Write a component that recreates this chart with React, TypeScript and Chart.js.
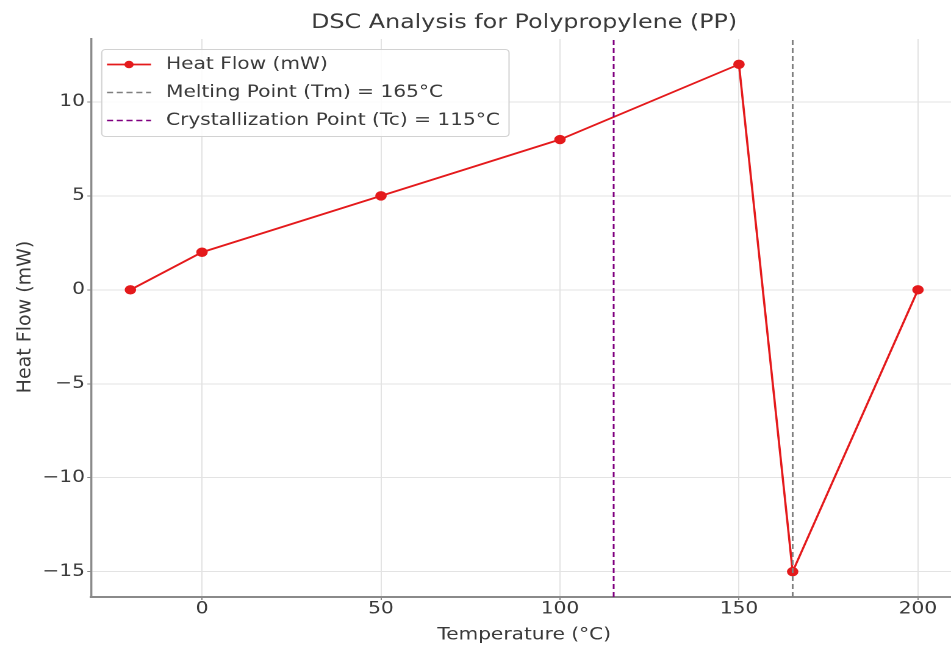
import React, { useEffect, useRef } from 'react';
import { Chart, registerables } from 'chart.js';

Chart.register(...registerables);

// ---- data ----
const temperatures = [-20, 0, 50, 100, 150, 165, 200];
const heatFlow = [0, 2, 5, 8, 12, -15, 0];
const meltingPoint = 165;
const crystallizationPoint = 115;
const xTicks = [0, 50, 100, 150, 200];
const yTicks = [-15, -10, -5, 0, 5, 10];
const xRange = [-31, 211];
const yRange = [-16.35, 13.35];
const seriesLabels = [
  'Heat Flow (mW)',
  'Melting Point (Tm) = 165°C',
  'Crystallization Point (Tc) = 115°C',
];
const chartTitle = 'DSC Analysis for Polypropylene (PP)';
const xTitle = 'Temperature (°C)';
const yTitle = 'Heat Flow (mW)';

// ---- layout / style ----
const SX = 1.22; // horizontal stretch of the reference picture
const LW = 800; // logical canvas width
const LH = 648;
const FONT = "'DejaVu Sans', sans-serif";
const TEXT = '#3a3a3a';
const RED = '#e41a1c';

const fmt = (v: number) => String(v).replace('-', '\u2212');

const decorPlugin = {
  id: 'mplDecor',
  afterDraw(chart: any) {
    const { ctx, chartArea } = chart;
    // title centred over the axes
    ctx.save();
    ctx.fillStyle = TEXT;
    ctx.font = `19.5px ${FONT}`;
    ctx.textAlign = 'center';
    ctx.textBaseline = 'middle';
    ctx.fillText(chartTitle, (chartArea.left + chartArea.right) / 2, 23);
    ctx.restore();
    // y axis title (undo the horizontal stretch for rotated text)
    ctx.save();
    ctx.fillStyle = TEXT;
    ctx.translate(20.9, (chartArea.top + chartArea.bottom) / 2 - 1);
    ctx.scale(1 / SX, 1);
    ctx.rotate(-Math.PI / 2);
    ctx.font = `19px ${FONT}`;
    ctx.textAlign = 'center';
    ctx.textBaseline = 'middle';
    ctx.fillText(yTitle, 0, 0);
    ctx.restore();
  },
  afterDatasetsDraw(chart: any) {
    const { ctx, chartArea } = chart;
    const ds = chart.data.datasets;
    ctx.save();
    ctx.font = `16.5px ${FONT}`;
    let maxW = 0;
    ds.forEach((d: any) => {
      maxW = Math.max(maxW, ctx.measureText(d.label).width);
    });
    const left = chartArea.left + 8.8;
    const top = chartArea.top + 10.5;
    const textX = 52.7;
    const w = textX + maxW + 7.5;
    const h = 87;
    ctx.beginPath();
    if (ctx.roundRect) ctx.roundRect(left, top, w, h, 3);
    else ctx.rect(left, top, w, h);
    ctx.fillStyle = 'rgba(255,255,255,0.85)';
    ctx.fill();
    ctx.strokeStyle = '#d2d2d2';
    ctx.lineWidth = 1;
    ctx.stroke();
    ds.forEach((d: any, i: number) => {
      const cy = top + 15 + i * 28;
      const x0 = left + 4.3;
      const x1 = left + 40.4;
      ctx.beginPath();
      ctx.setLineDash(d.borderDash || []);
      ctx.strokeStyle = d.borderColor;
      ctx.lineWidth = d.borderWidth;
      ctx.moveTo(x0, cy);
      ctx.lineTo(x1, cy);
      ctx.stroke();
      ctx.setLineDash([]);
      if (d.pointRadius > 0) {
        ctx.beginPath();
        ctx.arc((x0 + x1) / 2, cy, d.pointRadius, 0, Math.PI * 2);
        ctx.fillStyle = d.pointBackgroundColor;
        ctx.fill();
      }
      ctx.fillStyle = TEXT;
      ctx.textBaseline = 'middle';
      ctx.textAlign = 'left';
      ctx.fillText(d.label, left + textX, cy);
    });
    ctx.restore();
  },
};

export default function App() {
  const ref = useRef<HTMLCanvasElement | null>(null);

  useEffect(() => {
    if (!ref.current) return;
    const chart = new Chart(ref.current, {
      type: 'line',
      data: {
        datasets: [
          {
            label: seriesLabels[0],
            data: temperatures.map((t, i) => ({ x: t, y: heatFlow[i] })),
            borderColor: RED,
            backgroundColor: RED,
            pointBackgroundColor: RED,
            pointBorderColor: RED,
            pointRadius: 3.8,
            borderWidth: 1.8,
            order: 2,
          },
          {
            label: seriesLabels[1],
            data: [
              { x: meltingPoint, y: yRange[0] },
              { x: meltingPoint, y: yRange[1] },
            ],
            borderColor: '#808080',
            borderDash: [5, 3],
            borderWidth: 1.5,
            pointRadius: 0,
            order: 1,
          },
          {
            label: seriesLabels[2],
            data: [
              { x: crystallizationPoint, y: yRange[0] },
              { x: crystallizationPoint, y: yRange[1] },
            ],
            borderColor: '#800080',
            borderDash: [5, 3],
            borderWidth: 1.5,
            pointRadius: 0,
            order: 1,
          },
        ] as any,
      },
      options: {
        animation: false,
        responsive: false,
        devicePixelRatio: 2,
        layout: { padding: { left: 0, right: LW - 784.7, top: 39, bottom: 0 } },
        plugins: {
          legend: { display: false },
          tooltip: { enabled: false },
          title: { display: false },
        },
        scales: {
          x: {
            type: 'linear',
            min: xRange[0],
            max: xRange[1],
            afterBuildTicks: (s: any) => {
              s.ticks = xTicks.map((v) => ({ value: v }));
            },
            afterFit: (s: any) => {
              s.height = 51;
            },
            ticks: {
              color: TEXT,
              font: { family: FONT, size: 16.5, lineHeight: 1.0 },
              padding: 1,
              maxRotation: 0,
              callback: (v: any) => fmt(v),
            },
            grid: {
              color: '#e3e3e3',
              lineWidth: 1,
              tickLength: 3,
              tickColor: '#8a8a8a',
            },
            border: { display: true, color: '#8a8a8a', width: 2 },
            title: {
              display: true,
              text: xTitle,
              color: TEXT,
              font: { family: FONT, size: 16.5, lineHeight: 1.2 },
              padding: { top: 0, bottom: 3 },
            },
          },
          y: {
            type: 'linear',
            min: yRange[0],
            max: yRange[1],
            afterBuildTicks: (s: any) => {
              s.ticks = yTicks.map((v) => ({ value: v }));
            },
            afterFit: (s: any) => {
              s.width = 74.6;
            },
            ticks: {
              color: TEXT,
              font: { family: FONT, size: 16.5, lineHeight: 1.2 },
              padding: 2,
              callback: (v: any) => fmt(v),
            },
            grid: {
              color: '#e3e3e3',
              lineWidth: 1,
              tickLength: 3,
              tickColor: '#8a8a8a',
            },
            border: { display: true, color: '#8a8a8a', width: 1.7 },
            title: { display: false },
          },
        },
      } as any,
      plugins: [decorPlugin],
    });
    return () => chart.destroy();
  }, []);

  return (
    <div
      style={{
        position: 'fixed',
        left: 0,
        top: 0,
        width: 951,
        height: 648,
        overflow: 'hidden',
        background: '#fff',
      }}
    >
      <div
        style={{
          width: LW,
          height: LH,
          transform: `scaleX(${SX})`,
          transformOrigin: '0 0',
        }}
      >
        <canvas ref={ref} width={LW} height={LH} style={{ display: 'block' }} />
      </div>
    </div>
  );
}
